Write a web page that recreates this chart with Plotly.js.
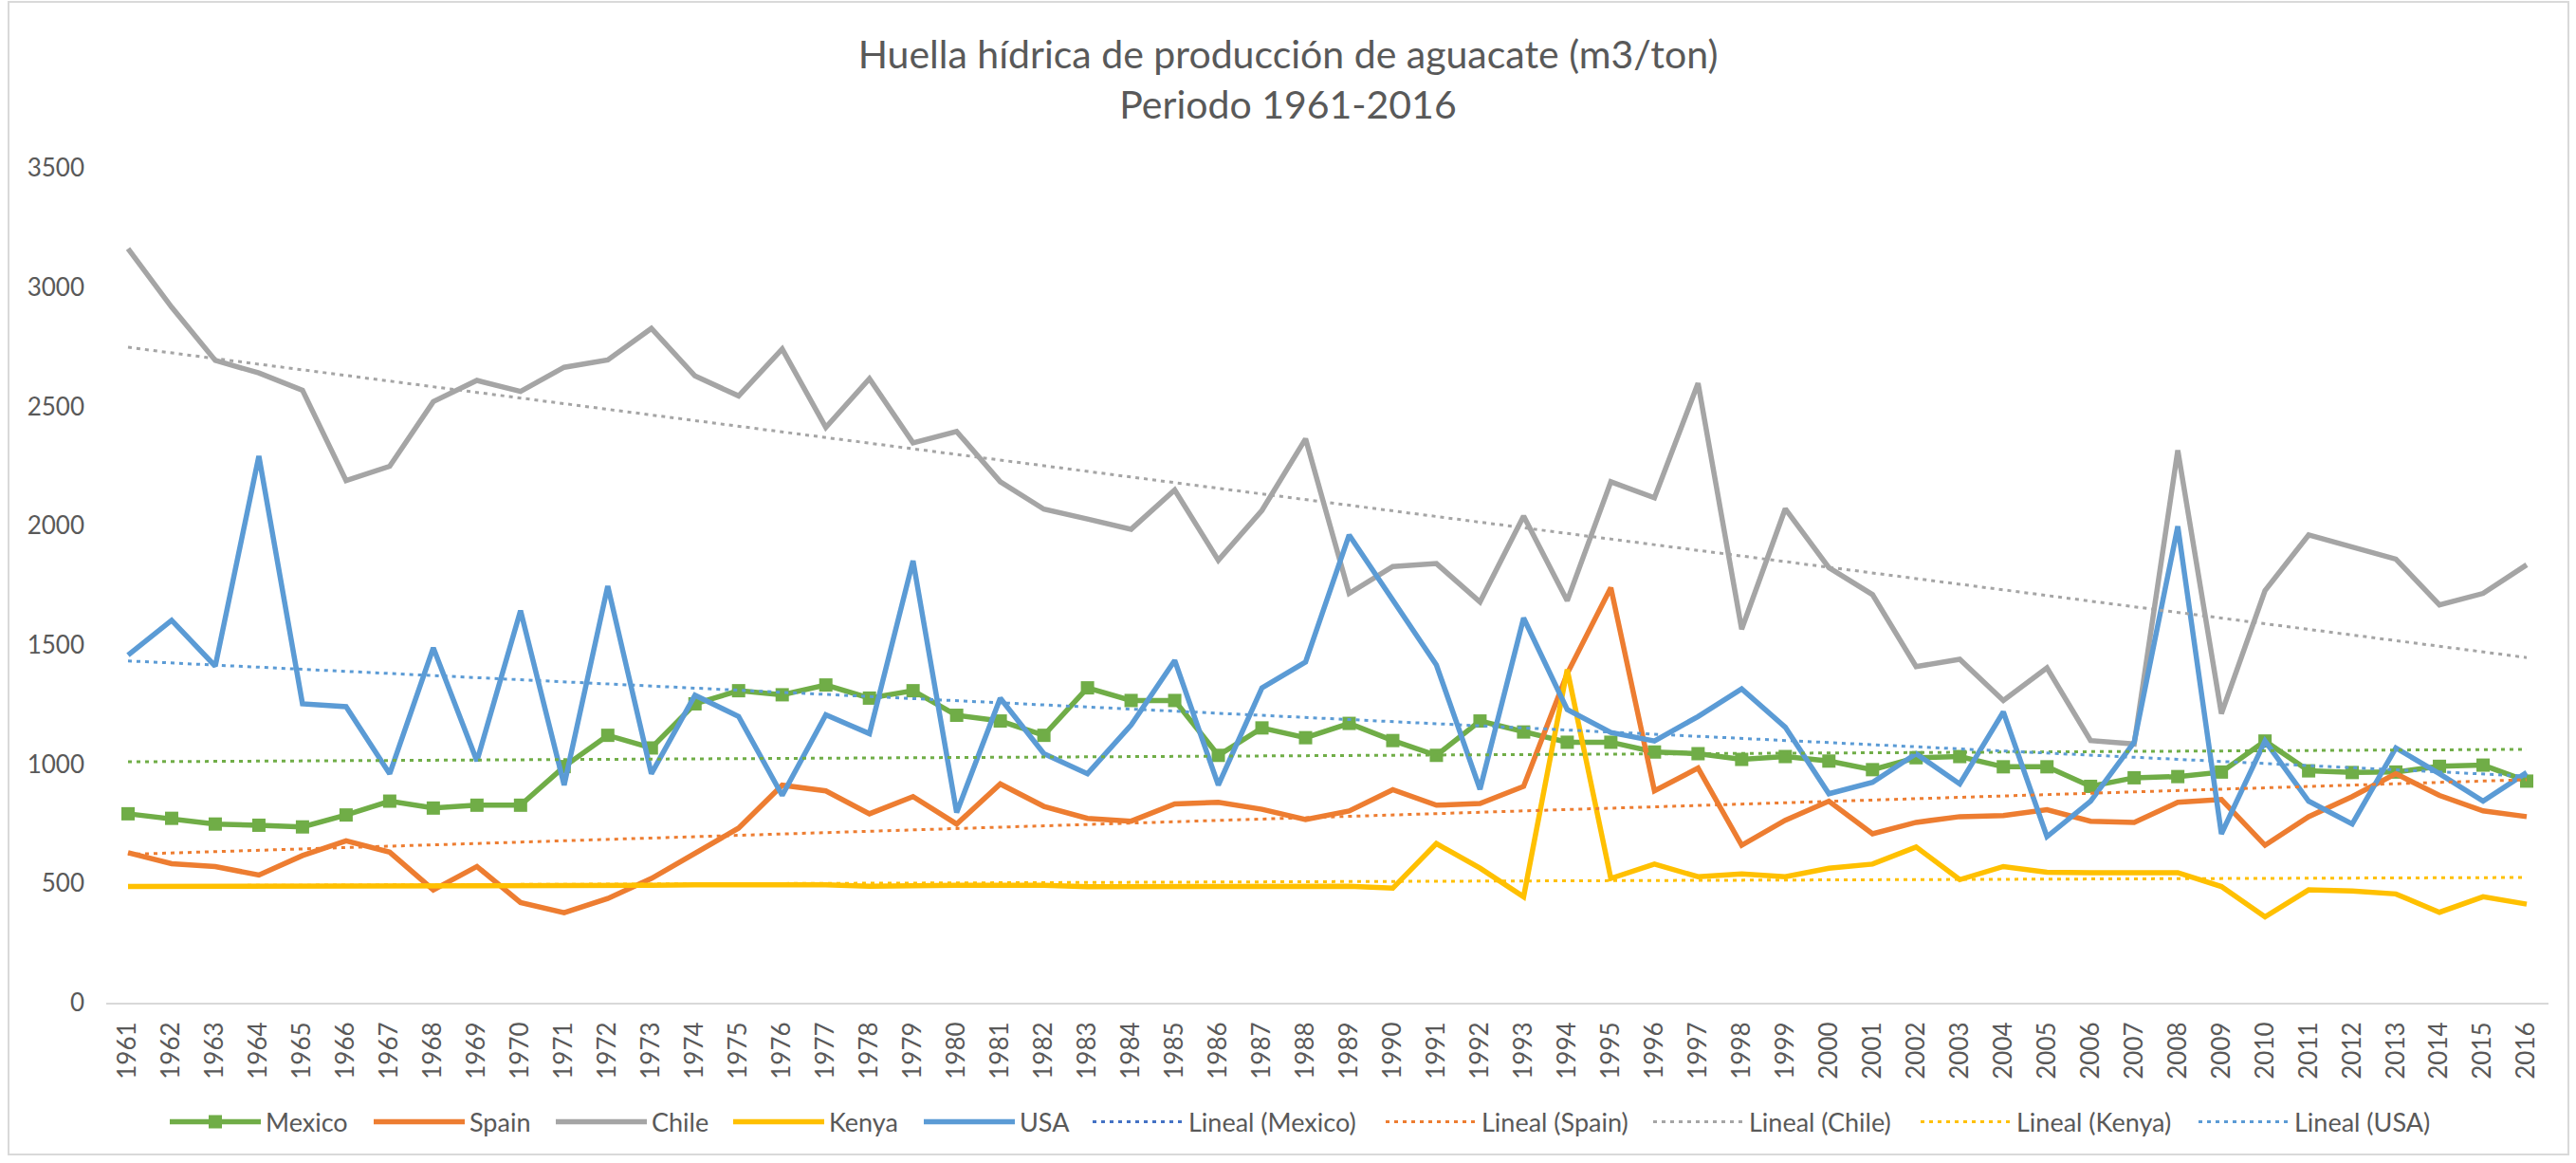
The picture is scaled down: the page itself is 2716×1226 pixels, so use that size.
<!DOCTYPE html>
<html>
<head>
<meta charset="utf-8">
<script src="https://cdn.plot.ly/plotly-3.0.1.min.js"></script>
<style>
  html, body { margin: 0; padding: 0; background: #fff; }
  #wrap { position: relative; width: 2716px; height: 1226px; }
  #chart { width: 2716px; height: 1226px; }
  #frame { position: absolute; left: 8px; top: 1px; width: 2701px; height: 1217px;
           border: 2px solid #d9d9d9; pointer-events: none; box-sizing: border-box; }
</style>
</head>
<body>
<div id="wrap"><div id="chart"></div><div id="frame"></div></div>
<script>
const years = ["1961","1962","1963","1964","1965","1966","1967","1968","1969","1970",
  "1971","1972","1973","1974","1975","1976","1977","1978","1979","1980",
  "1981","1982","1983","1984","1985","1986","1987","1988","1989","1990",
  "1991","1992","1993","1994","1995","1996","1997","1998","1999","2000",
  "2001","2002","2003","2004","2005","2006","2007","2008","2009","2010",
  "2011","2012","2013","2014","2015","2016"];

const mexico = [792,773,749,744,737,787,845,816,828,828,
  990,1121,1068,1253,1308,1291,1332,1277,1308,1205,
  1181,1121,1320,1267,1267,1037,1152,1111,1171,1099,
  1037,1181,1135,1092,1092,1051,1044,1020,1032,1013,
  977,1027,1032,989,989,907,943,948,967,1097,
  972,965,967,991,996,929];

const spain = [629,583,571,535,617,679,631,473,571,420,
  377,437,521,629,732,912,888,792,864,749,
  917,823,773,761,833,840,811,768,804,893,
  828,835,907,1380,1740,888,984,660,765,845,
  708,756,780,785,809,761,756,840,852,660,
  780,864,960,869,804,780];

const chile = [3161,2916,2693,2640,2568,2189,2249,2520,2609,2563,
  2664,2695,2827,2628,2544,2741,2412,2616,2347,2395,
  2184,2069,2028,1985,2150,1855,2064,2364,1716,1829,
  1841,1680,2040,1685,2184,2117,2597,1566,2071,1824,
  1711,1409,1440,1267,1404,1099,1085,2316,1212,1728,
  1961,1913,1860,1668,1716,1836];

const kenya = [487,487,488,488,489,489,489,488,488,489,
  490,490,492,494,494,494,494,488,492,492,
  492,492,486,486,487,487,487,488,488,480,
  667,564,444,1397,521,581,528,540,528,564,
  581,653,516,571,547,545,545,545,487,360,
  473,468,456,379,444,413];

const usa = [1457,1603,1411,2292,1253,1241,960,1488,1013,1644,
  912,1747,960,1289,1200,869,1207,1128,1853,797,
  1277,1044,960,1164,1435,912,1320,1428,1961,1692,
  1416,895,1613,1229,1133,1097,1200,1316,1155,876,
  924,1044,917,1219,696,845,1092,1997,708,1097,
  845,749,1068,960,845,965];

// Linear trend lines: values read at first and last year
const trendNames = ["Lineal (Mexico)","Lineal (Spain)","Lineal (Chile)","Lineal (Kenya)","Lineal (USA)"];
const trendStart = [1010, 622, 2748, 490, 1433];
const trendEnd   = [1062, 935, 1447, 525, 950];

const seriesNames = ["Mexico","Spain","Chile","Kenya","USA"];
const seriesValues = [mexico, spain, chile, kenya, usa];
const colors = ["#70AD47","#ED7D31","#A5A5A5","#FFC000","#5B9BD5"];
const legendColorsTrend = ["#4472C4","#ED7D31","#A5A5A5","#FFC000","#5B9BD5"];

// legend entry positions (left edge of the symbol, in px of the figure)
const legendX = [184, 399, 591, 778, 979, 1157, 1466, 1748, 2030, 2323];
const legendId = k => (k === 0 ? 'legend' : 'legend' + (k + 1));

const traces = [];
seriesNames.forEach((n, i) => {
  const t = {
    x: years, y: seriesValues[i], name: n, type: 'scatter',
    mode: i === 0 ? 'lines+markers' : 'lines',
    line: {color: colors[i], width: 5.5},
    legend: legendId(i)
  };
  if (i === 0) t.marker = {symbol: 'square', size: 14, color: colors[i]};
  traces.push(t);
});
const dotDash = '4px,5px';
trendNames.forEach((n, i) => {
  traces.push({
    x: [years[0], years[years.length - 1]], y: [trendStart[i], trendEnd[i]],
    name: n, type: 'scatter', mode: 'lines',
    line: {color: colors[i], width: 3, dash: dotDash},
    showlegend: i !== 0, legend: legendId(5 + i), hoverinfo: 'skip'
  });
});
// legend entry for the Mexico trend (drawn in blue in the original legend)
traces.push({
  x: [null], y: [null], name: trendNames[0], type: 'scatter', mode: 'lines',
  line: {color: legendColorsTrend[0], width: 3, dash: dotDash},
  legend: legendId(5)
});

const font = 'Lato, "Open Sans", sans-serif';
const layout = {
  width: 2716, height: 1226,
  paper_bgcolor: '#ffffff', plot_bgcolor: '#ffffff',
  margin: {l: 112, r: 29, t: 177, b: 169, autoexpand: false},
  font: {family: font, color: '#595959', size: 26},
  title: {
    text: 'Huella hídrica de producción de aguacate (m3/ton)<br>Periodo 1961-2016',
    font: {family: font, size: 41, color: '#595959'},
    x: 0.5, xanchor: 'center', xref: 'container',
    y: 1 - 72 / 1226, yanchor: 'middle', yref: 'container'
  },
  xaxis: {
    type: 'category', categoryorder: 'array', categoryarray: years,
    range: [-0.5, years.length - 0.5], autorange: false,
    tickmode: 'array', tickvals: years, ticktext: years,
    tickangle: -90, showgrid: false, zeroline: false,
    showline: true, linecolor: '#d9d9d9', linewidth: 2,
    ticks: '', tickfont: {size: 26, color: '#595959'}, ticklabelstandoff: 8,
    automargin: false
  },
  yaxis: {
    range: [0, 3500], dtick: 500, tick0: 0, showgrid: false, zeroline: false,
    showline: false, ticks: '', tickfont: {size: 26, color: '#595959'},
    ticklabelstandoff: 22, automargin: false
  },
  showlegend: true
};
legendX.forEach((px, k) => {
  layout[legendId(k)] = {
    orientation: 'h', xref: 'container', x: (px - 10) / 2716, xanchor: 'left',
    y: -0.143, yanchor: 'middle', itemwidth: 96,
    bgcolor: 'rgba(0,0,0,0)',
    font: {size: 27, color: '#595959', family: font}
  };
});

Plotly.newPlot('chart', traces, layout, {displayModeBar: false, staticPlot: true});
</script>
</body>
</html>
